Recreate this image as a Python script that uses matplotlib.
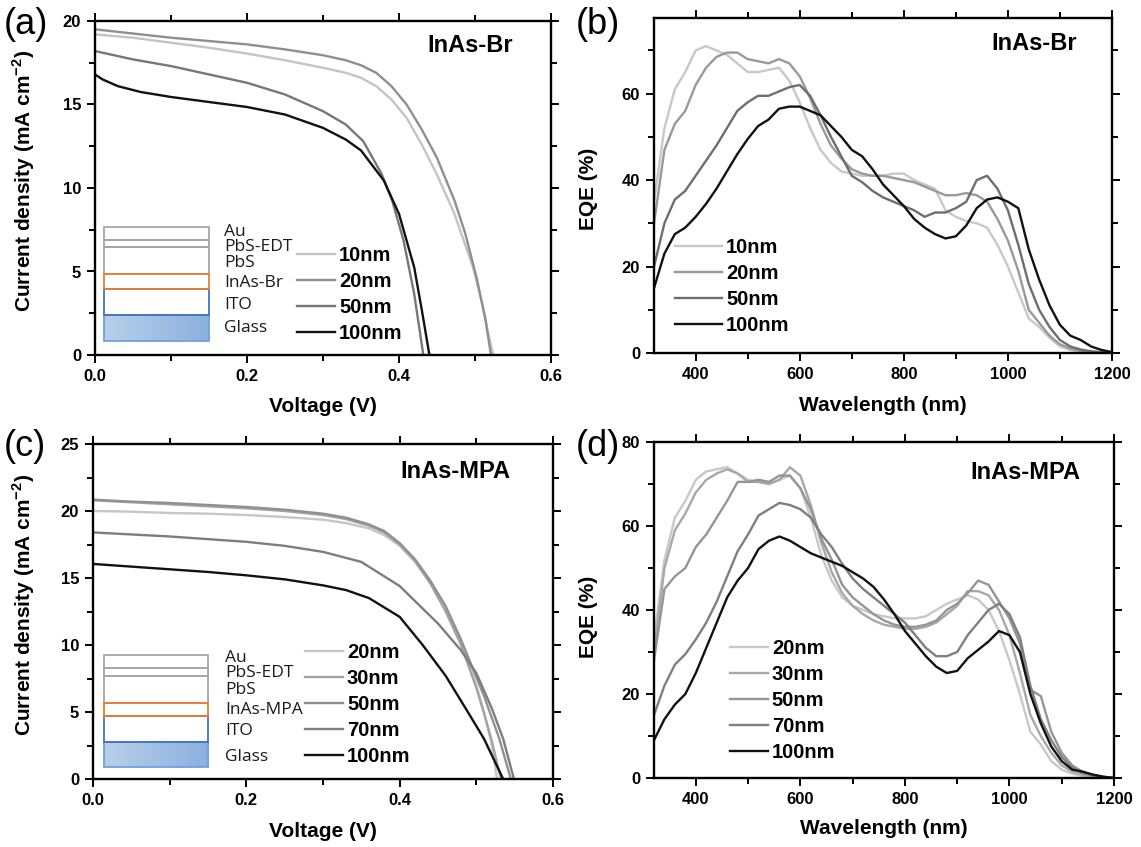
import matplotlib
matplotlib.use("Agg")
import matplotlib.pyplot as plt
import numpy as np
from matplotlib.patches import Rectangle
from matplotlib.ticker import MultipleLocator

plt.rcParams['font.family'] = ['Liberation Sans', 'DejaVu Sans']
plt.rcParams['font.weight'] = 'bold'
plt.rcParams['axes.labelweight'] = 'bold'
plt.rcParams['mathtext.fontset'] = 'custom'
plt.rcParams['mathtext.rm'] = 'Liberation Sans'
plt.rcParams['mathtext.bf'] = 'Liberation Sans:bold'

# ---------------- DATA ----------------
# (a) J-V, InAs-Br
a_labels = ['10nm', '20nm', '50nm', '100nm']
a_colors = ['#c4c4c4', '#8f8f8f', '#777777', '#111111']
a_V10 = [0, 0.05, 0.1, 0.15, 0.2, 0.25, 0.3, 0.33, 0.35, 0.37, 0.39, 0.41, 0.43, 0.45, 0.473, 0.497, 0.51, 0.516, 0.524]
a_J10 = [19.2, 19.0, 18.7, 18.4, 18.05, 17.65, 17.2, 16.9, 16.6, 16.1, 15.3, 14.2, 12.6, 10.8, 8.45, 5.3, 3.0, 1.6, 0]
a_V20 = [0, 0.05, 0.1, 0.15, 0.2, 0.25, 0.3, 0.33, 0.35, 0.37, 0.39, 0.41, 0.43, 0.45, 0.473, 0.487, 0.502, 0.514, 0.521]
a_J20 = [19.5, 19.25, 19.0, 18.8, 18.6, 18.3, 17.95, 17.65, 17.35, 16.9, 16.1, 15.0, 13.5, 11.8, 9.25, 7.3, 4.65, 2.06, 0]
a_V50 = [0, 0.02, 0.05, 0.1, 0.15, 0.2, 0.25, 0.3, 0.33, 0.353, 0.377, 0.391, 0.406, 0.42, 0.432]
a_J50 = [18.2, 18.0, 17.7, 17.3, 16.8, 16.3, 15.6, 14.6, 13.8, 12.8, 10.85, 9.25, 6.85, 3.66, 0]
a_V100 = [0, 0.01, 0.03, 0.06, 0.1, 0.15, 0.2, 0.25, 0.3, 0.33, 0.35, 0.38, 0.40, 0.42, 0.43, 0.44]
a_J100 = [16.8, 16.5, 16.1, 15.75, 15.45, 15.15, 14.85, 14.4, 13.6, 12.9, 12.25, 10.45, 8.45, 5.25, 2.7, 0]

# (c) J-V, InAs-MPA
c_labels = ['20nm', '30nm', '50nm', '70nm', '100nm']
c_colors = ['#c6c6c6', '#a4a4a4', '#909090', '#7d7d7d', '#111111']
c_V20 = [0, 0.05, 0.1, 0.15, 0.2, 0.25, 0.3, 0.33, 0.36, 0.38, 0.40, 0.42, 0.44, 0.46, 0.48, 0.50, 0.51, 0.52, 0.527]
c_J20 = [20.0, 19.95, 19.85, 19.8, 19.7, 19.55, 19.35, 19.1, 18.7, 18.2, 17.4, 16.2, 14.6, 12.6, 10.2, 7.0, 5.0, 2.6, 0]
c_V30 = [0, 0.05, 0.1, 0.15, 0.2, 0.25, 0.3, 0.33, 0.36, 0.38, 0.40, 0.42, 0.44, 0.46, 0.48, 0.50, 0.51, 0.52, 0.532]
c_J30 = [20.8, 20.65, 20.5, 20.35, 20.2, 20.0, 19.7, 19.4, 18.9, 18.4, 17.5, 16.3, 14.6, 12.5, 10.0, 6.8, 4.9, 2.9, 0]
c_V50 = [0, 0.05, 0.1, 0.15, 0.2, 0.25, 0.3, 0.33, 0.36, 0.38, 0.40, 0.42, 0.44, 0.46, 0.48, 0.50, 0.51, 0.52, 0.53, 0.545]
c_J50 = [20.85, 20.7, 20.6, 20.45, 20.3, 20.1, 19.8, 19.5, 19.0, 18.5, 17.6, 16.4, 14.8, 12.9, 10.4, 7.6, 6.2, 4.6, 3.0, 0]
c_V70 = [0, 0.05, 0.1, 0.15, 0.2, 0.25, 0.3, 0.35, 0.4, 0.45, 0.48, 0.50, 0.52, 0.535, 0.549]
c_J70 = [18.4, 18.25, 18.1, 17.9, 17.7, 17.4, 16.95, 16.2, 14.4, 11.6, 9.6, 7.9, 5.3, 3.0, 0]
c_V100 = [0, 0.05, 0.1, 0.15, 0.2, 0.25, 0.3, 0.33, 0.36, 0.40, 0.43, 0.46, 0.49, 0.51, 0.535]
c_J100 = [16.05, 15.85, 15.65, 15.45, 15.2, 14.9, 14.45, 14.1, 13.5, 12.1, 10.0, 7.7, 4.9, 3.0, 0]

# EQE wavelengths (nm)
wl = [320, 340, 360, 380, 400, 420, 440, 460, 480, 500,
      520, 540, 560, 580, 600, 620, 640, 660, 680, 700,
      720, 740, 760, 780, 800, 820, 840, 860, 880, 900,
      920, 940, 960, 980, 1000, 1020, 1040, 1060, 1080, 1100,
      1120, 1140, 1160, 1180, 1200]

# (b) EQE, InAs-Br
b_labels = ['10nm', '20nm', '50nm', '100nm']
b_colors = ['#c8c8c8', '#999999', '#6e6e6e', '#111111']
b_10 = [35, 52, 61, 65, 70, 71, 70, 69, 67, 65,
        65, 65.5, 66, 63, 58, 52, 47, 44, 42, 41.5,
        41, 41, 41, 41.5, 41.5, 40, 39, 38, 33, 31.5,
        30.5, 30, 29, 25, 20, 14, 8, 6, 3.5, 1.5,
        0.7, 0.3, 0.1, 0, 0]
b_20 = [30, 47, 53, 56, 62, 66, 68.5, 69.5, 69.5, 68,
        67.5, 67, 68, 67, 64, 59, 53, 48, 45, 42.5,
        41.5, 41, 41, 40.5, 40, 39.5, 38.5, 37.5, 36.5, 36.5,
        37, 36.5, 35, 31, 26, 19, 10, 7, 4, 2,
        1, 0.5, 0.2, 0.1, 0]
b_50 = [20, 30, 35.5, 37.5, 41, 44.5, 48, 52, 56, 58,
        59.5, 59.5, 60.5, 61.5, 62, 59.5, 55, 50, 45.5, 41,
        39.5, 37.5, 36, 35, 34, 33, 31.5, 32.5, 32.5, 33.5,
        35, 40, 41, 38, 33, 25, 16, 10, 6, 3,
        1.5, 0.8, 0.4, 0.2, 0]
b_100 = [15, 23, 27.5, 29, 31.5, 34.5, 38, 42, 46, 49.5,
         52.5, 54, 56.5, 57, 57, 56, 55, 52.5, 50, 47,
         45.5, 42.5, 39, 36.5, 34, 31, 29, 27.5, 26.5, 27,
         29.5, 33.5, 35.5, 36, 35, 33.5, 24, 17, 11, 6.5,
         4, 3, 1.5, 0.7, 0.2]

# (d) EQE, InAs-MPA
d_labels = ['20nm', '30nm', '50nm', '70nm', '100nm']
d_colors = ['#c8c8c8', '#a8a8a8', '#959595', '#7f7f7f', '#111111']
d_20 = [33, 52, 62, 66, 71, 73, 73.5, 74, 72.5, 71,
        70.5, 70, 71, 72, 69, 62, 53, 47, 43, 41,
        40, 39, 38.5, 38, 38, 38, 38.5, 40, 41.5, 42.5,
        43.5, 42.5, 40, 35, 28, 20, 11, 8, 4, 2,
        1, 0.5, 0.2, 0.1, 0]
d_30 = [30, 50, 59, 63, 68, 71, 72.5, 73.5, 72.5, 70.5,
        70.5, 70, 71, 74, 72, 65, 56, 49, 44, 41,
        39, 37.5, 36.5, 36, 35.5, 35.5, 36, 37, 39, 41,
        44.5, 44.5, 43.5, 40, 34, 25, 15, 10, 6, 3,
        1.5, 0.8, 0.4, 0.2, 0]
d_50 = [28, 45, 48, 50, 55, 58, 62, 66, 70.5, 70.5,
        71, 70.5, 72, 72, 69, 64, 57, 52, 46, 43,
        41, 39, 37.5, 36.5, 36, 36, 36.5, 37.5, 40, 41.5,
        44, 47, 46, 42, 38, 32, 21, 19.5, 11, 6,
        3, 1.5, 0.7, 0.3, 0]
d_70 = [15, 22, 27, 29.5, 33, 37, 42, 48, 54, 58,
        62.5, 64, 65.5, 65, 64, 62, 58, 55, 51, 47.5,
        45, 43, 41, 39, 37, 34, 31, 29, 29, 30,
        34, 37, 40, 41.5, 39, 33.5, 22, 14, 9, 5,
        2.5, 1.2, 0.6, 0.2, 0]
d_100 = [9, 14, 17.5, 20, 25, 31, 37, 43, 47, 50,
         54.5, 56.5, 57.5, 56.5, 55, 53.5, 52.5, 51.5, 50.5, 49,
         47.5, 45.5, 42.5, 39, 35, 32, 29, 26.5, 25, 25.5,
         28.5, 30.5, 32.5, 35, 34, 30, 20, 13, 7.5, 4,
         2, 1.5, 0.8, 0.3, 0]

# ---------------- FIGURE ----------------
W, H = 1141, 847
fig = plt.figure(figsize=(W / 100, H / 100), dpi=100)


def rect(l, r, t, b):
    return [l / W, 1 - b / H, (r - l) / W, (b - t) / H]


def fx(x):
    return x / W


def fy(y):
    return 1 - y / H


axA = fig.add_axes(rect(95, 551, 21, 355))
axB = fig.add_axes(rect(654, 1112, 18, 353))
axC = fig.add_axes(rect(93, 553, 444, 779))
axD = fig.add_axes(rect(654, 1114, 442, 778))

LW = 1.7
ALS = 15


def style(ax, xmaj, xmin, ymaj, ymin):
    for s in ax.spines.values():
        s.set_linewidth(1.7)
    ax.xaxis.set_major_locator(MultipleLocator(xmaj))
    ax.xaxis.set_minor_locator(MultipleLocator(xmin))
    ax.yaxis.set_major_locator(MultipleLocator(ymaj))
    ax.yaxis.set_minor_locator(MultipleLocator(ymin))
    ax.tick_params(which='both', direction='out', top=True, right=True, width=1.4)
    ax.tick_params(which='major', length=6, labelsize=12, pad=4)
    ax.tick_params(which='minor', length=4)


# (a)
for V, J, lab, col in zip([a_V10, a_V20, a_V50, a_V100], [a_J10, a_J20, a_J50, a_J100], a_labels, a_colors):
    axA.plot(V, J, color=col, lw=LW, label=lab)
axA.set_xlim(0, 0.6)
axA.set_ylim(0, 20)
style(axA, 0.2, 0.1, 5, 2.5)
axA.xaxis.set_major_formatter(matplotlib.ticker.FormatStrFormatter('%.1f'))
axA.set_xlabel('Voltage (V)', fontsize=ALS)
axA.set_ylabel('Current density (mA cm$^{\\mathbf{-2}}$)', fontsize=ALS)
axA.xaxis.set_label_coords(0.5, -0.127)
axA.yaxis.set_label_coords(-0.127, 0.52)

# (c)
for V, J, lab, col in zip([c_V20, c_V30, c_V50, c_V70, c_V100], [c_J20, c_J30, c_J50, c_J70, c_J100], c_labels, c_colors):
    axC.plot(V, J, color=col, lw=LW, label=lab)
axC.set_xlim(0, 0.6)
axC.set_ylim(0, 25)
style(axC, 0.2, 0.1, 5, 2.5)
axC.xaxis.set_major_formatter(matplotlib.ticker.FormatStrFormatter('%.1f'))
axC.set_xlabel('Voltage (V)', fontsize=ALS)
axC.set_ylabel('Current density (mA cm$^{\\mathbf{-2}}$)', fontsize=ALS)
axC.xaxis.set_label_coords(0.5, -0.129)
axC.yaxis.set_label_coords(-0.122, 0.52)

# (b)
for ys, lab, col in zip([b_10, b_20, b_50, b_100], b_labels, b_colors):
    axB.plot(wl, ys, color=col, lw=LW, label=lab)
axB.set_xlim(320, 1200)
axB.set_ylim(0, 77.5)
style(axB, 200, 100, 20, 10)
axB.set_xlabel('Wavelength (nm)', fontsize=ALS)
axB.set_ylabel('EQE (%)', fontsize=ALS)
axB.xaxis.set_label_coords(0.5, -0.129)
axB.yaxis.set_label_coords(-0.122, 0.49)

# (d)
for ys, lab, col in zip([d_20, d_30, d_50, d_70, d_100], d_labels, d_colors):
    axD.plot(wl, ys, color=col, lw=LW, label=lab)
axD.set_xlim(320, 1200)
axD.set_ylim(0, 80)
style(axD, 200, 100, 20, 10)
axD.set_xlabel('Wavelength (nm)', fontsize=ALS)
axD.set_ylabel('EQE (%)', fontsize=ALS)
axD.xaxis.set_label_coords(0.5, -0.123)
axD.yaxis.set_label_coords(-0.122, 0.48)

# Legends
LFS = 14.5
def legend(ax, x, y, hl):
    ax.legend(loc='upper left', bbox_to_anchor=(x, y), frameon=False,
              handlelength=hl, handletextpad=0.18, labelspacing=0.34, borderpad=0,
              borderaxespad=0, prop={'weight': 'bold', 'size': LFS})

legend(axA, 0.443, 0.326, 1.9)
legend(axB, 0.046, 0.342, 2.35)
legend(axC, 0.461, 0.405, 1.9)
legend(axD, 0.165, 0.413, 1.9)

# Panel letters and titles
for txt, x, y in [('(a)', 4, 25), ('(b)', 576, 25), ('(c)', 4, 446), ('(d)', 576, 446)]:
    fig.text(fx(x), fy(y), txt, fontsize=26, fontweight='normal', ha='left', va='center')
for txt, x, y in [('InAs-Br', 513, 45), ('InAs-Br', 1077, 44), ('InAs-MPA', 510, 471), ('InAs-MPA', 1080, 472)]:
    fig.text(fx(x), fy(y), txt, fontsize=17, fontweight='bold', ha='right', va='center')


# Device stack insets
def stack(l, r, bounds, labels, lab_x, lab_y):
    top, bot = bounds[0], bounds[-1]
    iax = fig.add_axes(rect(l - 2, r + 2, top - 2, bot + 2))
    iax.set_xlim(-2, (r - l) + 2)
    iax.set_ylim(bot + 2, top - 2)
    iax.axis('off')
    w = r - l
    edge = ['#a6a6a6', '#a6a6a6', '#a6a6a6', '#ed7d31', '#4472c4', '#6fa0dc']
    grad = np.linspace(0, 1, 64).reshape(1, -1)
    cmap = matplotlib.colors.LinearSegmentedColormap.from_list('g', ['#b8cfe9', '#8bb1df'])
    iax.imshow(grad, extent=[0, w, bounds[6], bounds[5]], cmap=cmap, aspect='auto', zorder=1)
    order = [0, 1, 2, 5, 4, 3]
    for i in order:
        y0, y1 = bounds[i], bounds[i + 1]
        iax.add_patch(Rectangle((0, y0), w, y1 - y0, fill=False, ec=edge[i], lw=1.3, zorder=2 + (i == 3)))
    for t, yy in zip(labels, lab_y):
        fig.text(fx(lab_x), fy(yy), t, fontsize=12.5, fontweight='normal', family=['Open Sans', 'DejaVu Sans'],
                 ha='left', va='center', color='#1a1a1a')


stack(104, 209, [227, 240, 247, 274, 289, 315, 341],
      ['Au', 'PbS-EDT', 'PbS', 'InAs-Br', 'ITO', 'Glass'], 224,
      [232, 247, 263, 283, 305, 328])
stack(104, 208, [655, 668, 676, 703, 716, 742, 767],
      ['Au', 'PbS-EDT', 'PbS', 'InAs-MPA', 'ITO', 'Glass'], 225,
      [658, 673, 690, 710, 731, 757])

fig.savefig('out.png', dpi=100)
